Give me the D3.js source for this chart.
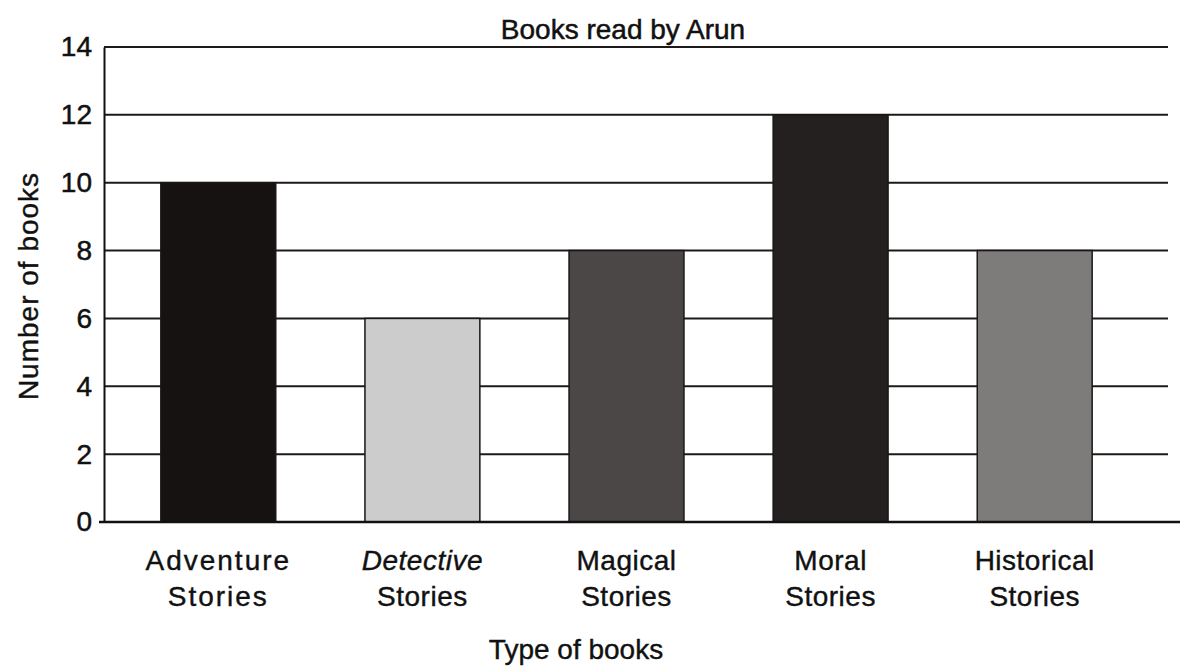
<!DOCTYPE html>
<html><head><meta charset="utf-8">
<script src="https://cdn.jsdelivr.net/npm/d3@7"></script>
<style>body{margin:0;background:#fff}svg{display:block}</style>
</head><body><svg id="c" width="1186" height="670"></svg>
<script>
const categories = ["Adventure Stories","Detective Stories","Magical Stories","Moral Stories","Historical Stories"];
const values = [10, 6, 8, 12, 8];
const barColors = ["#161212","#cdcccc","#4b4747","#242020","#7e7b7b"];
const yTicks = [0,2,4,6,8,10,12,14];
const title = "Books read by Arun";
const xTitle = "Type of books";
const yTitle = "Number of books";

(function(){
const svg = d3.select("#c");
const FONT = "Liberation Sans, Arial, sans-serif";
const mLeft = 104, mRight = 1168, mTop = 47, mBottom = 522;
const y = d3.scaleLinear().domain([0,14]).range([mBottom, mTop]);
const x = d3.scaleBand().domain(categories).range([109, 1144]).paddingInner(0.437).paddingOuter(0.254);

// gridlines
svg.append("g").selectAll("line").data(yTicks.filter(d=>d>0)).join("line")
  .attr("x1", mLeft).attr("x2", mRight).attr("y1", d=>y(d)).attr("y2", d=>y(d))
  .attr("stroke", "#1e1a1a").attr("stroke-width", 2);

// bars
svg.append("g").selectAll("rect").data(values).join("rect")
  .attr("x", (d,i)=>x(categories[i])).attr("width", x.bandwidth())
  .attr("y", d=>y(d)).attr("height", d=>y(0)-y(d))
  .attr("fill", (d,i)=>barColors[i]).attr("stroke", "#1a1616").attr("stroke-width", 1.5);

// y axis
const yAxis = d3.axisLeft(y).tickValues(yTicks).tickSize(0).tickPadding(12);
const gy = svg.append("g").attr("transform", `translate(${mLeft},0)`).call(yAxis);
gy.select(".domain").attr("stroke", "#111").attr("stroke-width", 2);
gy.selectAll("text").attr("font-family", FONT).attr("font-size", 28).attr("fill", "#111")
  .attr("stroke", "#111").attr("stroke-width", 0.5);

// x axis baseline
svg.append("line").attr("x1", 99).attr("x2", 1180).attr("y1", y(0)).attr("y2", y(0))
  .attr("stroke", "#111").attr("stroke-width", 2.5);

// category labels
const lab = svg.append("g").attr("font-family", FONT).attr("font-size", 28).attr("fill", "#111")
  .attr("stroke", "#111").attr("stroke-width", 0.4).attr("text-anchor", "middle");
categories.forEach((c,i)=>{
  const parts = c.split(" ");
  const cx = x(c) + x.bandwidth()/2;
  const t = lab.append("text").attr("x", cx).attr("y", 570).attr("letter-spacing", i===0 ? 2 : 0.5);
  const t1 = t.append("tspan").attr("x", cx).attr("dy", 0).text(parts[0]);
  if (i===1) t1.attr("font-style", "italic");
  t.append("tspan").attr("x", cx).attr("dy", 36).text(parts[1]);
});

// titles
svg.append("text").attr("x", 623).attr("y", 39).attr("text-anchor", "middle")
  .attr("font-family", FONT).attr("font-size", 28).attr("fill", "#111")
  .attr("stroke", "#111").attr("stroke-width", 0.5).text(title);
svg.append("text").attr("x", 576).attr("y", 659).attr("text-anchor", "middle")
  .attr("font-family", FONT).attr("font-size", 28).attr("fill", "#111")
  .attr("stroke", "#111").attr("stroke-width", 0.4).text(xTitle);
svg.append("text").attr("transform", "translate(38,286) rotate(-90)").attr("text-anchor", "middle")
  .attr("font-family", FONT).attr("font-size", 28).attr("letter-spacing", 1).attr("fill", "#111")
  .attr("stroke", "#111").attr("stroke-width", 0.4).text(yTitle);
})();
</script></body></html>
